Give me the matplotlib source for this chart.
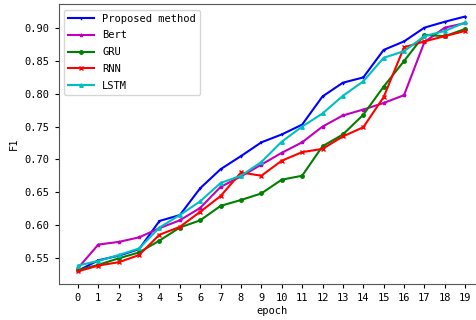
import matplotlib
matplotlib.use("Agg")
import matplotlib.pyplot as plt
import numpy as np

plt.rcParams['font.family'] = ['DejaVu Sans Mono']

epochs = list(range(20))
proposed = [0.530, 0.546, 0.553, 0.563, 0.606, 0.615, 0.656, 0.685, 0.705, 0.726,
            0.738, 0.753, 0.796, 0.817, 0.825, 0.867, 0.880, 0.901, 0.910, 0.918]
bert = [0.534, 0.570, 0.574, 0.581, 0.595, 0.607, 0.626, 0.658, 0.674, 0.692,
        0.710, 0.726, 0.750, 0.767, 0.776, 0.786, 0.798, 0.879, 0.901, 0.908]
gru = [0.531, 0.539, 0.549, 0.558, 0.576, 0.596, 0.607, 0.629, 0.638, 0.648,
       0.669, 0.675, 0.720, 0.738, 0.768, 0.811, 0.850, 0.890, 0.888, 0.899]
rnn = [0.529, 0.538, 0.543, 0.554, 0.585, 0.597, 0.620, 0.644, 0.680, 0.675,
       0.698, 0.711, 0.716, 0.735, 0.749, 0.795, 0.871, 0.880, 0.888, 0.896]
lstm = [0.538, 0.545, 0.554, 0.564, 0.596, 0.615, 0.636, 0.664, 0.675, 0.696,
        0.727, 0.750, 0.770, 0.797, 0.819, 0.855, 0.865, 0.888, 0.896, 0.909]

fig = plt.figure(figsize=(4.77, 3.2), dpi=100)
ax = fig.add_axes([0.1228, 0.1125, 0.893, 0.874])

ax.plot(epochs, proposed, "b-", marker="1", ms=2.5, lw=1.5, label="Proposed method")
ax.plot(epochs, bert, "m-", marker="*", ms=2.5, lw=1.5, label="Bert")
ax.plot(epochs, gru, "g-", marker="o", ms=2.5, lw=1.5, label="GRU")
ax.plot(epochs, rnn, "r-", marker="x", ms=2.5, lw=1.5, label="RNN")
ax.plot(epochs, lstm, "c-", marker="^", ms=2.5, lw=1.5, label="LSTM")

ax.set_xlim(-0.95, 19.95)
ax.set_ylim(0.5098, 0.9366)
ax.set_xticks(epochs)
ax.set_yticks([0.55, 0.60, 0.65, 0.70, 0.75, 0.80, 0.85, 0.90])
ax.tick_params(labelsize=7.5, length=3)
ax.set_xlabel("epoch", fontsize=7.5, labelpad=2)
ax.set_ylabel("F1", fontsize=7.5)
ax.legend(loc="upper left", fontsize=7.5, handlelength=2.5, labelspacing=0.65)
for s in ax.spines.values():
    s.set_color("#555555")

fig.savefig("out.png", dpi=100)
